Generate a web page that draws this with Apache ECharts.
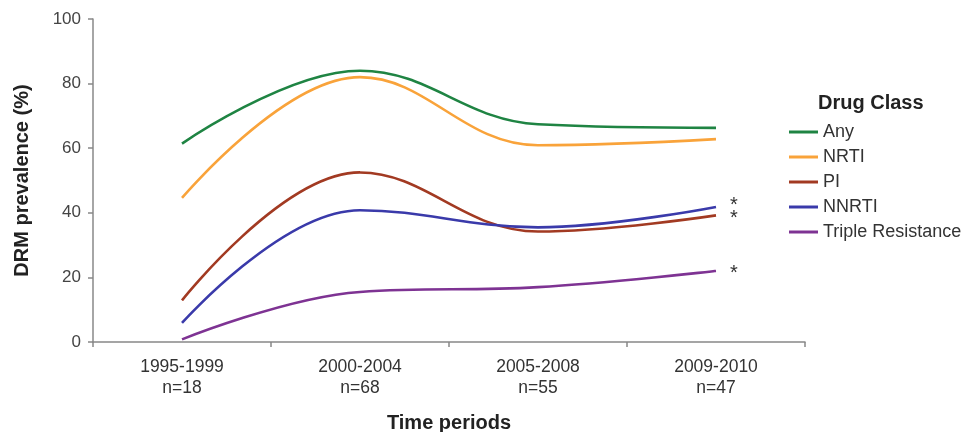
<!DOCTYPE html>
<html>
<head>
<meta charset="utf-8">
<script src="https://cdn.jsdelivr.net/npm/echarts@6/dist/echarts.min.js"></script>
<style>html,body{margin:0;padding:0;background:#fff}#c{width:968px;height:432px}</style>
</head>
<body>
<div id="c"></div>
<script>
const categories = ['1995-1999\nn=18', '2000-2004\nn=68', '2005-2008\nn=55', '2009-2010\nn=47'];
const seriesNames = ['Any', 'NRTI', 'PI', 'NNRTI', 'Triple Resistance'];
const anyVals = [61.4, 84, 67.4, 66.3];
const nrtiVals = [44.6, 82, 60.9, 62.8];
const piVals = [12.9, 52.5, 34.2, 39.2];
const nnrtiVals = [5.9, 40.8, 35.5, 41.8];
const tripleVals = [0.8, 15.5, 17, 22];
const starred = ['PI', 'NNRTI', 'Triple Resistance'];
const yTicks = [0, 20, 40, 60, 80, 100];

const colors = ['#1f8443', '#f9a33a', '#a23a22', '#3a3aaa', '#7e3393'];
const starOffsets = {'PI': [0, 3], 'NNRTI': [0, -2], 'Triple Resistance': [0, 3]};
const values = [anyVals, nrtiVals, piVals, nnrtiVals, tripleVals];

const chart = echarts.init(document.getElementById('c'), null, {renderer: 'canvas'});
const font = 'Liberation Sans, Arial, sans-serif';

chart.setOption({
  animation: false,
  textStyle: {fontFamily: font},
  title: {
    text: 'Drug Class',
    left: 818, top: 93,
    padding: 0,
    textStyle: {fontFamily: font, fontSize: 20, fontWeight: 'bold', color: '#222'}
  },
  legend: {
    orient: 'vertical',
    left: 789, top: 122,
    icon: 'rect',
    itemWidth: 29, itemHeight: 3,
    itemGap: 5,
    padding: 0,
    data: seriesNames,
    textStyle: {fontFamily: font, fontSize: 18, color: '#333', lineHeight: 20}
  },
  grid: {left: 93, right: 163, top: 19, bottom: 90, containLabel: false, outerBoundsMode: 'none'},
  xAxis: {
    type: 'category',
    data: categories,
    boundaryGap: true,
    axisLine: {lineStyle: {color: '#888', width: 1.5}},
    axisTick: {show: true, length: 5, lineStyle: {color: '#888', width: 1.5}},
    axisLabel: {fontSize: 17.5, color: '#333', lineHeight: 21, margin: 15, fontFamily: font},
    name: 'Time periods',
    nameLocation: 'middle',
    nameGap: 71,
    nameTextStyle: {fontSize: 20, fontWeight: 'bold', color: '#222', fontFamily: font}
  },
  yAxis: {
    type: 'value',
    min: 0, max: 100, interval: 20,
    splitLine: {show: false},
    axisLine: {show: true, lineStyle: {color: '#888', width: 1.5}},
    axisTick: {show: true, length: 5, lineStyle: {color: '#888', width: 1.5}},
    axisLabel: {fontSize: 17, color: '#444', margin: 12, fontFamily: font,
      formatter: v => yTicks.includes(v) ? String(v) : ''},
    name: 'DRM prevalence (%)',
    nameLocation: 'middle',
    nameGap: 61,
    nameTextStyle: {fontSize: 20, fontWeight: 'bold', color: '#222', fontFamily: font}
  },
  series: seriesNames.map((n, i) => ({
    name: n,
    type: 'line',
    data: values[i],
    smooth: 0.4,
    symbol: 'none',
    lineStyle: {color: colors[i], width: 2.6},
    itemStyle: {color: colors[i]},
    endLabel: {
      show: starred.includes(n),
      formatter: '*',
      distance: 14,
      fontSize: 20,
      color: '#333',
      fontFamily: font,
      offset: starOffsets[n] || [0, 0]
    }
  }))
});
</script>
</body>
</html>
